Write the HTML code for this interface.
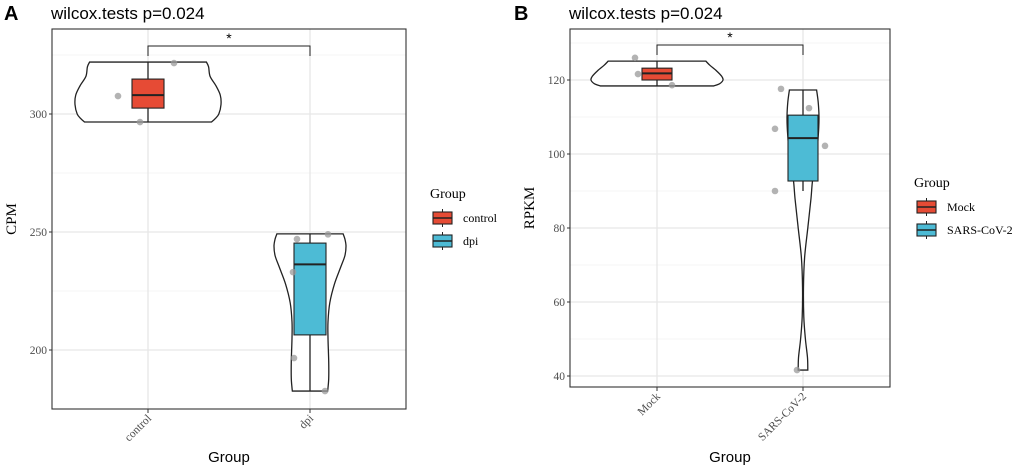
<!DOCTYPE html>
<html><head><meta charset="utf-8"><style>
body{margin:0;background:#fff;width:1020px;height:469px;overflow:hidden}
svg{display:block}
.tick{font-family:"Liberation Serif",serif;font-size:11.5px;fill:#4d4d4d}
.title{font-family:"Liberation Sans",sans-serif;font-size:17px;fill:#000}
.axt{font-family:"Liberation Sans",sans-serif;font-size:15px;fill:#000}
.ayt{font-family:"Liberation Serif",serif;font-size:15px;fill:#000}
.leg{font-family:"Liberation Serif",serif;font-size:12px;fill:#000}
.legt{font-family:"Liberation Serif",serif;font-size:14px;fill:#000}
</style></head><body>
<svg id="chart" width="1020" height="469"></svg>
<script>
// ---- Panel A data ----
const catsA = ["control","dpi"];
const ticksA = [200,250,300];
const minorA = [225,275,325];
const boxA = [[296.6,302.5,308,314.8,322],[182.6,206.4,236.3,245.3,249.2]];
const ptsA = [[[-30,307.6],[26,321.6],[-8,296.6]],[[-13,247],[18,249],[-16,196.6],[15,182.6],[-17,233]]];
const violA = [
 [[322,0.80],[320,0.83],[316,0.85],[312,0.93],[308,0.99],[304,1],[300,0.97],[298,0.92],[296.6,0.87]],
 [[249.2,0.92],[247,0.97],[244,1],[240,0.97],[235,0.85],[228,0.68],[220,0.55],[212,0.5],[205,0.5],[195,0.52],[188,0.52],[184,0.5],[182.6,0.49]]
];
// ---- Panel B data ----
const catsB = ["Mock","SARS-CoV-2"];
const ticksB = [40,60,80,100,120];
const minorB = [50,70,90,110,130];
const boxB = [[118.4,120,121.8,123.2,125.1],[90,92.7,104.3,110.5,117.3]];
const ptsB = [[[-22,126],[-19,121.6],[15,118.6]],[[-22,117.6],[6,112.4],[-28,106.8],[22,102.2],[-28,90],[-6,41.6]]];
const violB = [
 [[125.1,0.74],[124,0.8],[122.5,0.9],[121,0.98],[120,1],[119,0.95],[118.4,0.86]],
 [[117.3,0.85],[114,0.95],[110,1],[106,0.97],[100,0.85],[93,0.6],[88,0.5],[80,0.3],[72,0.1],[64,0.03],[56,0.05],[50,0.15],[45,0.28],[41.6,0.3]]
];
const colors = ["#e64b35","#4dbbd5"];
const NS="http://www.w3.org/2000/svg";
const svg=document.getElementById("chart");
function mk(tag,attrs,parent){const e=document.createElementNS(NS,tag);for(const k in attrs)e.setAttribute(k,attrs[k]);(parent||svg).appendChild(e);return e;}
function crPath(pts){let d="M"+pts[0][0]+","+pts[0][1];for(let i=0;i<pts.length-1;i++){const p0=pts[Math.max(i-1,0)],p1=pts[i],p2=pts[i+1],p3=pts[Math.min(i+2,pts.length-1)];
 const c1=[p1[0]+(p2[0]-p0[0])/6,p1[1]+(p2[1]-p0[1])/6],c2=[p2[0]-(p3[0]-p1[0])/6,p2[1]-(p3[1]-p1[1])/6];
 d+=" C"+c1[0]+","+c1[1]+" "+c2[0]+","+c2[1]+" "+p2[0]+","+p2[1];}return d;}

function panel(o){
 const g=mk("g",{});
 
 
 const y=v=>o.y0+(o.v0-v)*o.k;
 const x=i=>o.xc[i];
 mk("rect",{x:o.L,y:o.T,width:o.R-o.L,height:o.B-o.T,fill:"#fff"},g);
 o.minor.forEach(v=>{const l=mk("line",{x1:o.L,x2:o.R,y1:y(v),y2:y(v),stroke:"#f0f0f0","stroke-width":0.8},g);});
 o.ticks.forEach(v=>{const l=mk("line",{x1:o.L,x2:o.R,y1:y(v),y2:y(v),stroke:"#e6e6e6","stroke-width":1.3},g);
  mk("line",{x1:o.L-3,x2:o.L,y1:y(v),y2:y(v),stroke:"#333"},g);
  const t=mk("text",{x:o.L-5,y:y(v)+4,"text-anchor":"end",class:"tick"},g);t.textContent=v;});
 o.cats.forEach((c,i)=>{mk("line",{x1:x(i),x2:x(i),y1:o.T,y2:o.B,stroke:"#e6e6e6","stroke-width":1.3},g);
  mk("line",{x1:x(i),x2:x(i),y1:o.B,y2:o.B+4,stroke:"#333"},g);
  const t=mk("text",{x:x(i)+4,y:o.B+10,"text-anchor":"end",class:"tick",transform:`rotate(-45 ${x(i)+4} ${o.B+10})`},g);t.textContent=c;});
 o.viol.forEach((pr,i)=>{const right=pr.map(p=>[x(i)+p[1]*o.vw[i],y(p[0])]);const left=pr.slice().reverse().map(p=>[x(i)-p[1]*o.vw[i],y(p[0])]);
  let d=crPath(right)+" L"+left[0][0]+","+left[0][1]+crPath(left).replace(/^M[^C]*/," ")+" Z";
  const p=mk("path",{d:d,fill:"#fff",stroke:"#222","stroke-width":1.3},g);});
 o.box.forEach((b,i)=>{mk("line",{x1:x(i),x2:x(i),y1:y(b[0]),y2:y(b[4]),stroke:"#222","stroke-width":1.3},g);
  const r=mk("rect",{x:x(i)-o.bw,y:y(b[3]),width:2*o.bw,height:y(b[1])-y(b[3]),fill:colors[i],stroke:"#222","stroke-width":1.1},g);
  mk("line",{x1:x(i)-o.bw,x2:x(i)+o.bw,y1:y(b[2]),y2:y(b[2]),stroke:"#222","stroke-width":2},g);});
 o.pts.forEach((ps,i)=>ps.forEach(p=>{const c=mk("circle",{cx:x(i)+p[0],cy:y(p[1]),r:3.3,fill:"#9a9a9a","fill-opacity":0.75},g);}));
 mk("rect",{x:o.L,y:o.T,width:o.R-o.L,height:o.B-o.T,fill:"none",stroke:"#333","stroke-width":1.1},g);
 const br=mk("path",{d:`M${x(0)},${o.bt+10} V${o.bt} H${x(1)} V${o.bt+10}`,fill:"none",stroke:"#222","stroke-width":1},g);
 const st=mk("text",{x:(x(0)+x(1))/2,y:o.bt-3,"text-anchor":"middle","font-family":"Liberation Sans,sans-serif","font-size":"14",fill:"#000"},g);st.textContent="*";
 const lab=mk("text",{x:o.lx,y:20,"font-family":"Liberation Sans,sans-serif","font-size":"20","font-weight":"bold"},g);lab.textContent=o.letter;
 const ti=mk("text",{x:o.tx,y:19,class:"title"},g);ti.textContent="wilcox.tests p=0.024";
 const yl=mk("text",{x:o.yt,y:(o.T+o.B)/2,"text-anchor":"middle",class:"ayt",transform:`rotate(-90 ${o.yt} ${(o.T+o.B)/2})`},g);yl.textContent=o.ylab;
 const xl=mk("text",{x:(o.L+o.R)/2,y:462,"text-anchor":"middle",class:"axt"},g);xl.textContent="Group";
 const lt=mk("text",{x:o.lgx-3,y:o.lgy,class:"legt"},g);lt.textContent="Group";
 o.cats.forEach((c,i)=>{const yy=o.lgy+20+i*23;const eg=mk("g",{},g);
  mk("line",{x1:o.lgx+9.5,x2:o.lgx+9.5,y1:yy-9,y2:yy+9,stroke:"#222"},eg);
  mk("rect",{x:o.lgx,y:yy-6,width:19,height:12,fill:colors[i],stroke:"#222","stroke-width":1.1},eg);
  mk("line",{x1:o.lgx,x2:o.lgx+19,y1:yy,y2:yy,stroke:"#222","stroke-width":1.5},eg);
  const t=mk("text",{x:o.lgx+30,y:yy+4,class:"leg"},eg);t.textContent=c;});
}
panel({name:"panel-a",letter:"A",lx:4,tx:51,cats:catsA,ticks:ticksA,minor:minorA,box:boxA,pts:ptsA,viol:violA,
 L:52,R:406,T:29,B:409,y0:114,v0:300,k:2.36,xc:[148,310],vw:[73,36],bw:16,bt:46,yt:16,ylab:"CPM",lgx:433,lgy:198});
panel({name:"panel-b",letter:"B",lx:514,tx:569,cats:catsB,ticks:ticksB,minor:minorB,box:boxB,pts:ptsB,viol:violB,
 L:570,R:890,T:29,B:387,y0:80,v0:120,k:3.7,xc:[657,803],vw:[66,16],bw:15,bt:45,yt:534,ylab:"RPKM",lgx:917,lgy:187});
</script>
</body></html>
